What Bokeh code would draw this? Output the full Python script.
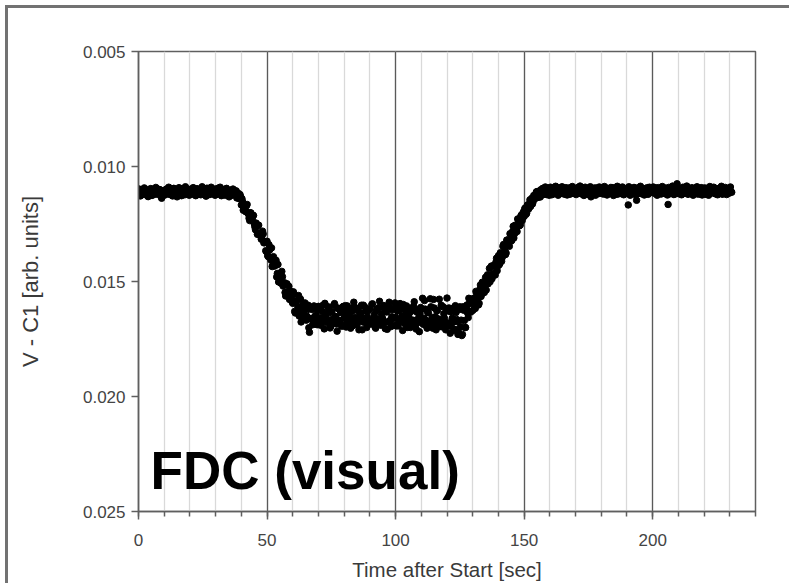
from bokeh.plotting import figure
from bokeh.layouts import column
from bokeh.models import Range1d, FixedTicker, NumeralTickFormatter, Label, ColumnDataSource
from bokeh.embed import file_html
from bokeh.resources import INLINE

# ---- data (V - C1, two interleaved sample sets, 0.5 s apart each) ----
step_sec = 0.5
offset_b = 0.25

t_before = 0.0
v_before = [
    0.01115, 0.01102, 0.01122, 0.01107, 0.01117, 0.01099, 0.01112, 0.01119, 0.01104, 0.01124,
    0.01106, 0.01111, 0.01098, 0.01118, 0.01108, 0.01121, 0.01101, 0.01114, 0.01138, 0.01105,
    0.01105, 0.01117, 0.01098, 0.01113, 0.01121, 0.01102, 0.01109, 0.01096, 0.01115, 0.01111,
    0.01132, 0.01100, 0.01118, 0.01106, 0.01097, 0.01114, 0.01123, 0.01103, 0.01110, 0.01099,
    0.01115, 0.01103, 0.01118, 0.01094, 0.01110, 0.01113, 0.01098, 0.01121, 0.01106, 0.01100,
    0.01117, 0.01104, 0.01112, 0.01095, 0.01123, 0.01109, 0.01101, 0.01116, 0.01097, 0.01111,
    0.01102, 0.01120, 0.01106, 0.01115, 0.01097, 0.01112, 0.01117, 0.01101, 0.01110, 0.01123,
    0.01105, 0.01114, 0.01103, 0.01123, 0.01111, 0.01122, 0.01106, 0.01128, 0.01138, 0.01122,
]
v_before_b = [
    0.01098, 0.01128, 0.01106, 0.01119, 0.01093, 0.01123, 0.01102, 0.01131, 0.01112, 0.01096,
    0.01126, 0.01104, 0.01121, 0.01091, 0.01117, 0.01113, 0.01100, 0.01129, 0.01108, 0.01124,
    0.01124, 0.01099, 0.01112, 0.01090, 0.01120, 0.01105, 0.01128, 0.01095, 0.01116, 0.01102,
    0.01122, 0.01092, 0.01109, 0.01127, 0.01097, 0.01114, 0.01088, 0.01118, 0.01107, 0.01125,
    0.01100, 0.01120, 0.01092, 0.01112, 0.01127, 0.01097, 0.01115, 0.01105, 0.01123, 0.01088,
    0.01118, 0.01102, 0.01129, 0.01095, 0.01110, 0.01122, 0.01090, 0.01116, 0.01103, 0.01125,
    0.01122, 0.01095, 0.01114, 0.01090, 0.01127, 0.01110, 0.01100, 0.01125, 0.01095, 0.01118,
    0.01132, 0.01105, 0.01125, 0.01098, 0.01120, 0.01106, 0.01137, 0.01116, 0.01139, 0.01132,
]

t_ingress = 40.0
v_ingress = [
    0.01167, 0.01153, 0.01188, 0.01174, 0.01171, 0.01201, 0.01225, 0.01201, 0.01224, 0.01212,
    0.01249, 0.01275, 0.01253, 0.01256, 0.01297, 0.01289, 0.01314, 0.01293, 0.01331, 0.01366,
    0.01325, 0.01392, 0.01363, 0.01406, 0.01435, 0.01392, 0.01433, 0.01408, 0.01465, 0.01502,
    0.01464, 0.01508, 0.01479, 0.01513, 0.01548, 0.01513, 0.01549, 0.01521, 0.01574, 0.01565,
]
v_ingress_b = [
    0.01140, 0.01190, 0.01168, 0.01197, 0.01165, 0.01207, 0.01235, 0.01202, 0.01229, 0.01213,
    0.01262, 0.01246, 0.01295, 0.01255, 0.01292, 0.01316, 0.01281, 0.01332, 0.01328, 0.01370,
    0.01388, 0.01340, 0.01395, 0.01354, 0.01428, 0.01423, 0.01413, 0.01480, 0.01426, 0.01478,
    0.01505, 0.01456, 0.01520, 0.01505, 0.01563, 0.01510, 0.01547, 0.01578, 0.01543, 0.01588,
]

t_bottom = 60.0
v_bottom = [
    0.01595, 0.01554, 0.01637, 0.01584, 0.01611, 0.01650, 0.01576, 0.01635, 0.01619, 0.01661,
    0.01609, 0.01651, 0.01603, 0.01721, 0.01662, 0.01622, 0.01680, 0.01612, 0.01648, 0.01688,
    0.01608, 0.01658, 0.01690, 0.01630, 0.01668, 0.01595, 0.01646, 0.01675, 0.01620, 0.01702,
    0.01635, 0.01664, 0.01602, 0.01652, 0.01685, 0.01615, 0.01670, 0.01628, 0.01695, 0.01610,
    0.01660, 0.01605, 0.01683, 0.01650, 0.01623, 0.01703, 0.01630, 0.01673, 0.01610, 0.01655,
    0.01689, 0.01617, 0.01665, 0.01637, 0.01710, 0.01603, 0.01677, 0.01627, 0.01653, 0.01685,
    0.01620, 0.01680, 0.01597, 0.01657, 0.01697, 0.01627, 0.01670, 0.01613, 0.01687, 0.01640,
    0.01663, 0.01605, 0.01705, 0.01633, 0.01675, 0.01590, 0.01667, 0.01653, 0.01617, 0.01690,
    0.01655, 0.01610, 0.01693, 0.01625, 0.01673, 0.01650, 0.01600, 0.01683, 0.01635, 0.01700,
    0.01617, 0.01663, 0.01630, 0.01687, 0.01607, 0.01670, 0.01707, 0.01623, 0.01657, 0.01640,
    0.01677, 0.01573, 0.01660, 0.01620, 0.01693, 0.01635, 0.01680, 0.01575, 0.01667, 0.01703,
    0.01615, 0.01653, 0.01627, 0.01685, 0.01577, 0.01673, 0.01697, 0.01610, 0.01660, 0.01710,
    0.01572, 0.01680, 0.01630, 0.01695, 0.01660, 0.01615, 0.01708, 0.01635, 0.01675, 0.01722,
    0.01610, 0.01668, 0.01730, 0.01625, 0.01700, 0.01615, 0.01637, 0.01573, 0.01632, 0.01595,
]
v_bottom_b = [
    0.01545, 0.01630, 0.01586, 0.01631, 0.01561, 0.01630, 0.01676, 0.01603, 0.01637, 0.01593,
    0.01668, 0.01622, 0.01701, 0.01612, 0.01660, 0.01688, 0.01606, 0.01650, 0.01675, 0.01625,
    0.01688, 0.01623, 0.01660, 0.01603, 0.01706, 0.01640, 0.01678, 0.01610, 0.01668, 0.01696,
    0.01630, 0.01683, 0.01596, 0.01653, 0.01716, 0.01618, 0.01670, 0.01636, 0.01690, 0.01608,
    0.01633, 0.01698, 0.01606, 0.01673, 0.01656, 0.01618, 0.01693, 0.01590, 0.01666, 0.01683,
    0.01626, 0.01710, 0.01640, 0.01603, 0.01676, 0.01660, 0.01613, 0.01700, 0.01628, 0.01686,
    0.01670, 0.01600, 0.01686, 0.01643, 0.01703, 0.01620, 0.01663, 0.01586, 0.01690, 0.01656,
    0.01613, 0.01678, 0.01630, 0.01708, 0.01608, 0.01673, 0.01696, 0.01623, 0.01660, 0.01593,
    0.01693, 0.01628, 0.01676, 0.01596, 0.01666, 0.01713, 0.01618, 0.01658, 0.01606, 0.01683,
    0.01640, 0.01700, 0.01623, 0.01668, 0.01588, 0.01688, 0.01633, 0.01678, 0.01718, 0.01613,
    0.01620, 0.01686, 0.01583, 0.01668, 0.01703, 0.01636, 0.01690, 0.01610, 0.01656, 0.01578,
    0.01678, 0.01710, 0.01626, 0.01663, 0.01696, 0.01603, 0.01673, 0.01640, 0.01686, 0.01618,
    0.01690, 0.01615, 0.01725, 0.01632, 0.01678, 0.01712, 0.01605, 0.01665, 0.01730, 0.01622,
    0.01698, 0.01735, 0.01610, 0.01670, 0.01700, 0.01602, 0.01657, 0.01595, 0.01633, 0.01590,
]

t_egress = 130.0
v_egress = [
    0.01626, 0.01575, 0.01617, 0.01551, 0.01575, 0.01595, 0.01515, 0.01553, 0.01518, 0.01548,
    0.01482, 0.01509, 0.01510, 0.01443, 0.01473, 0.01488, 0.01431, 0.01464, 0.01417, 0.01453,
    0.01388, 0.01423, 0.01380, 0.01395, 0.01339, 0.01368, 0.01376, 0.01320, 0.01330, 0.01292,
    0.01324, 0.01283, 0.01311, 0.01255, 0.01271, 0.01228, 0.01258, 0.01254, 0.01210, 0.01222,
    0.01217, 0.01180, 0.01203, 0.01166, 0.01170, 0.01174, 0.01138, 0.01153, 0.01128, 0.01137,
    0.01109, 0.01129, 0.01118, 0.01101, 0.01124, 0.01101, 0.01115, 0.01093, 0.01121, 0.01100,
]
v_egress_b = [
    0.01574, 0.01616, 0.01543, 0.01587, 0.01602, 0.01535, 0.01565, 0.01503, 0.01533, 0.01507,
    0.01537, 0.01471, 0.01491, 0.01501, 0.01433, 0.01469, 0.01434, 0.01472, 0.01399, 0.01433,
    0.01428, 0.01375, 0.01412, 0.01347, 0.01373, 0.01383, 0.01320, 0.01338, 0.01347, 0.01294,
    0.01320, 0.01260, 0.01293, 0.01260, 0.01283, 0.01230, 0.01257, 0.01215, 0.01235, 0.01197,
    0.01183, 0.01208, 0.01168, 0.01185, 0.01145, 0.01164, 0.01163, 0.01126, 0.01139, 0.01111,
    0.01135, 0.01107, 0.01133, 0.01105, 0.01095, 0.01120, 0.01089, 0.01122, 0.01101, 0.01125,
]

t_after = 160.0
v_after = [
    0.01113, 0.01094, 0.01108, 0.01119, 0.01099, 0.01115, 0.01092, 0.01106, 0.01117, 0.01101,
    0.01112, 0.01096, 0.01121, 0.01103, 0.01110, 0.01093, 0.01114, 0.01107, 0.01097, 0.01118,
    0.01100, 0.01116, 0.01091, 0.01111, 0.01107, 0.01120, 0.01096, 0.01109, 0.01102, 0.01117,
    0.01095, 0.01113, 0.01132, 0.01098, 0.01106, 0.01115, 0.01093, 0.01110, 0.01118, 0.01099,
    0.01114, 0.01097, 0.01109, 0.01119, 0.01094, 0.01107, 0.01112, 0.01101, 0.01117, 0.01092,
    0.01111, 0.01106, 0.01096, 0.01120, 0.01103, 0.01115, 0.01098, 0.01108, 0.01116, 0.01100,
    0.01111, 0.01167, 0.01095, 0.01118, 0.01102, 0.01113, 0.01093, 0.01109, 0.01120, 0.01099,
    0.01106, 0.01116, 0.01096, 0.01112, 0.01104, 0.01119, 0.01092, 0.01110, 0.01114, 0.01101,
    0.01097, 0.01115, 0.01108, 0.01093, 0.01119, 0.01103, 0.01111, 0.01096, 0.01117, 0.01106,
    0.01094, 0.01113, 0.01165, 0.01100, 0.01118, 0.01098, 0.01109, 0.01120, 0.01095, 0.01075,
    0.01116, 0.01099, 0.01108, 0.01119, 0.01093, 0.01112, 0.01104, 0.01115, 0.01096, 0.01110,
    0.01118, 0.01101, 0.01113, 0.01094, 0.01107, 0.01120, 0.01098, 0.01111, 0.01092, 0.01114,
    0.01103, 0.01118, 0.01096, 0.01112, 0.01107, 0.01092, 0.01115, 0.01110, 0.01099, 0.01119,
    0.01104, 0.01114, 0.01095, 0.01111, 0.01120, 0.01100, 0.01108, 0.01116, 0.01097, 0.01113,
    0.01105, 0.01110,
]
v_after_b = [
    0.01090, 0.01123, 0.01099, 0.01117, 0.01086, 0.01110, 0.01125, 0.01094, 0.01113, 0.01088,
    0.01119, 0.01107, 0.01092, 0.01124, 0.01097, 0.01121, 0.01103, 0.01087, 0.01116, 0.01111,
    0.01122, 0.01093, 0.01114, 0.01085, 0.01118, 0.01101, 0.01126, 0.01090, 0.01111, 0.01096,
    0.01123, 0.01088, 0.01108, 0.01119, 0.01094, 0.01125, 0.01099, 0.01115, 0.01089, 0.01113,
    0.01095, 0.01120, 0.01087, 0.01112, 0.01124, 0.01100, 0.01117, 0.01091, 0.01108, 0.01126,
    0.01097, 0.01121, 0.01086, 0.01115, 0.01102, 0.01118, 0.01089, 0.01123, 0.01098, 0.01111,
    0.01117, 0.01088, 0.01125, 0.01096, 0.01110, 0.01091, 0.01122, 0.01147, 0.01093, 0.01114,
    0.01086, 0.01119, 0.01100, 0.01124, 0.01095, 0.01108, 0.01121, 0.01090, 0.01113, 0.01098,
    0.01089, 0.01116, 0.01101, 0.01125, 0.01092, 0.01112, 0.01120, 0.01087, 0.01107, 0.01118,
    0.01096, 0.01124, 0.01091, 0.01111, 0.01115, 0.01085, 0.01122, 0.01099, 0.01117, 0.01094,
    0.01119, 0.01096, 0.01123, 0.01090, 0.01109, 0.01116, 0.01085, 0.01121, 0.01099, 0.01114,
    0.01092, 0.01125, 0.01102, 0.01117, 0.01088, 0.01112, 0.01120, 0.01094, 0.01124, 0.01100,
    0.01093, 0.01121, 0.01098, 0.01125, 0.01087, 0.01114, 0.01108, 0.01090, 0.01118, 0.01101,
    0.01123, 0.01095, 0.01111, 0.01086, 0.01120, 0.01106, 0.01091, 0.01122, 0.01097, 0.01116,
    0.01089, 0.01112,
]

x_major = [0, 50, 100, 150, 200]
x_minor = [0, 10, 20, 30, 40, 50, 60, 70, 80, 90, 100, 110, 120, 130, 140, 150,
           160, 170, 180, 190, 200, 210, 220, 230, 240]
y_ticks = [0.005, 0.010, 0.015, 0.020, 0.025]

# ---- assemble ----
ts, vs = [], []
segments = [(t_before, v_before, v_before_b), (t_ingress, v_ingress, v_ingress_b),
            (t_bottom, v_bottom, v_bottom_b), (t_egress, v_egress, v_egress_b),
            (t_after, v_after, v_after_b)]
for start, vals_a, vals_b in segments:
    for i, v in enumerate(vals_a):
        ts.append(start + i * step_sec)
        vs.append(v)
    for i, v in enumerate(vals_b):
        ts.append(start + offset_b + i * step_sec)
        vs.append(v)
src = ColumnDataSource(data=dict(t=ts, v=vs))

FONT = "Liberation Sans"
FRAME = "#5f5f5f"

p = figure(width=781, height=575, output_backend="svg", toolbar_location=None, tools="",
           x_range=Range1d(0, 240), y_range=Range1d(0.025, 0.005),
           min_border_left=130, min_border_right=34, min_border_top=43, min_border_bottom=72,
           background_fill_color="white", border_fill_color="white")
p.toolbar.logo = None

p.outline_line_color = FRAME
p.outline_line_width = 1.5

# grid: light every 10 s, dark every 50 s
p.xaxis.ticker = FixedTicker(ticks=x_major, minor_ticks=x_minor)
p.xgrid.ticker = FixedTicker(ticks=x_major, minor_ticks=x_minor)
p.xgrid.grid_line_color = "#5a5a5a"
p.xgrid.grid_line_width = 1.3
p.xgrid.minor_grid_line_color = "#d9d9d9"
p.xgrid.minor_grid_line_width = 1.3
p.ygrid.visible = False

p.yaxis.ticker = FixedTicker(ticks=y_ticks, minor_ticks=[])
p.yaxis.formatter = NumeralTickFormatter(format="0.000")

for ax in (p.xaxis[0], p.yaxis[0]):
    ax.axis_line_color = FRAME
    ax.axis_line_width = 1.5
    ax.major_tick_line_color = FRAME
    ax.major_tick_line_width = 1.5
    ax.minor_tick_line_color = FRAME
    ax.minor_tick_line_width = 1.5
    ax.major_tick_in = 0
    ax.minor_tick_in = 0
    ax.major_label_text_font = FONT
    ax.major_label_text_font_size = "17px"
    ax.major_label_text_color = "#444444"
    ax.axis_label_text_font = FONT
    ax.axis_label_text_font_style = "normal"
    ax.axis_label_text_color = "#3a3a3a"

p.xaxis.major_tick_out = 8
p.xaxis.minor_tick_out = 5
p.xaxis.major_label_standoff = 14
p.xaxis.axis_label = "Time after Start [sec]"
p.xaxis.axis_label_text_font_size = "20.5px"
p.xaxis.axis_label_standoff = 9

p.yaxis.major_tick_out = 7
p.yaxis.minor_tick_out = 0
p.yaxis.major_label_standoff = 6
p.yaxis.axis_label = "V - C1 [arb. units]"
p.yaxis.axis_label_text_font_size = "22px"
p.yaxis.axis_label_standoff = 37

p.scatter(x="t", y="v", source=src, marker="circle", size=6.5,
          fill_color="black", line_color="black")

p.add_layout(Label(x=4.7, y=0.02323, text="FDC (visual)", text_font=FONT,
                   text_font_size="53px", text_font_style="bold", text_color="black",
                   text_baseline="alphabetic"))

page = column(p, styles={"border-top": "3px solid #727272", "border-left": "3px solid #727272",
                         "margin-left": "5px", "margin-top": "5px"})

open("out.html", "w").write(file_html(page, INLINE))
